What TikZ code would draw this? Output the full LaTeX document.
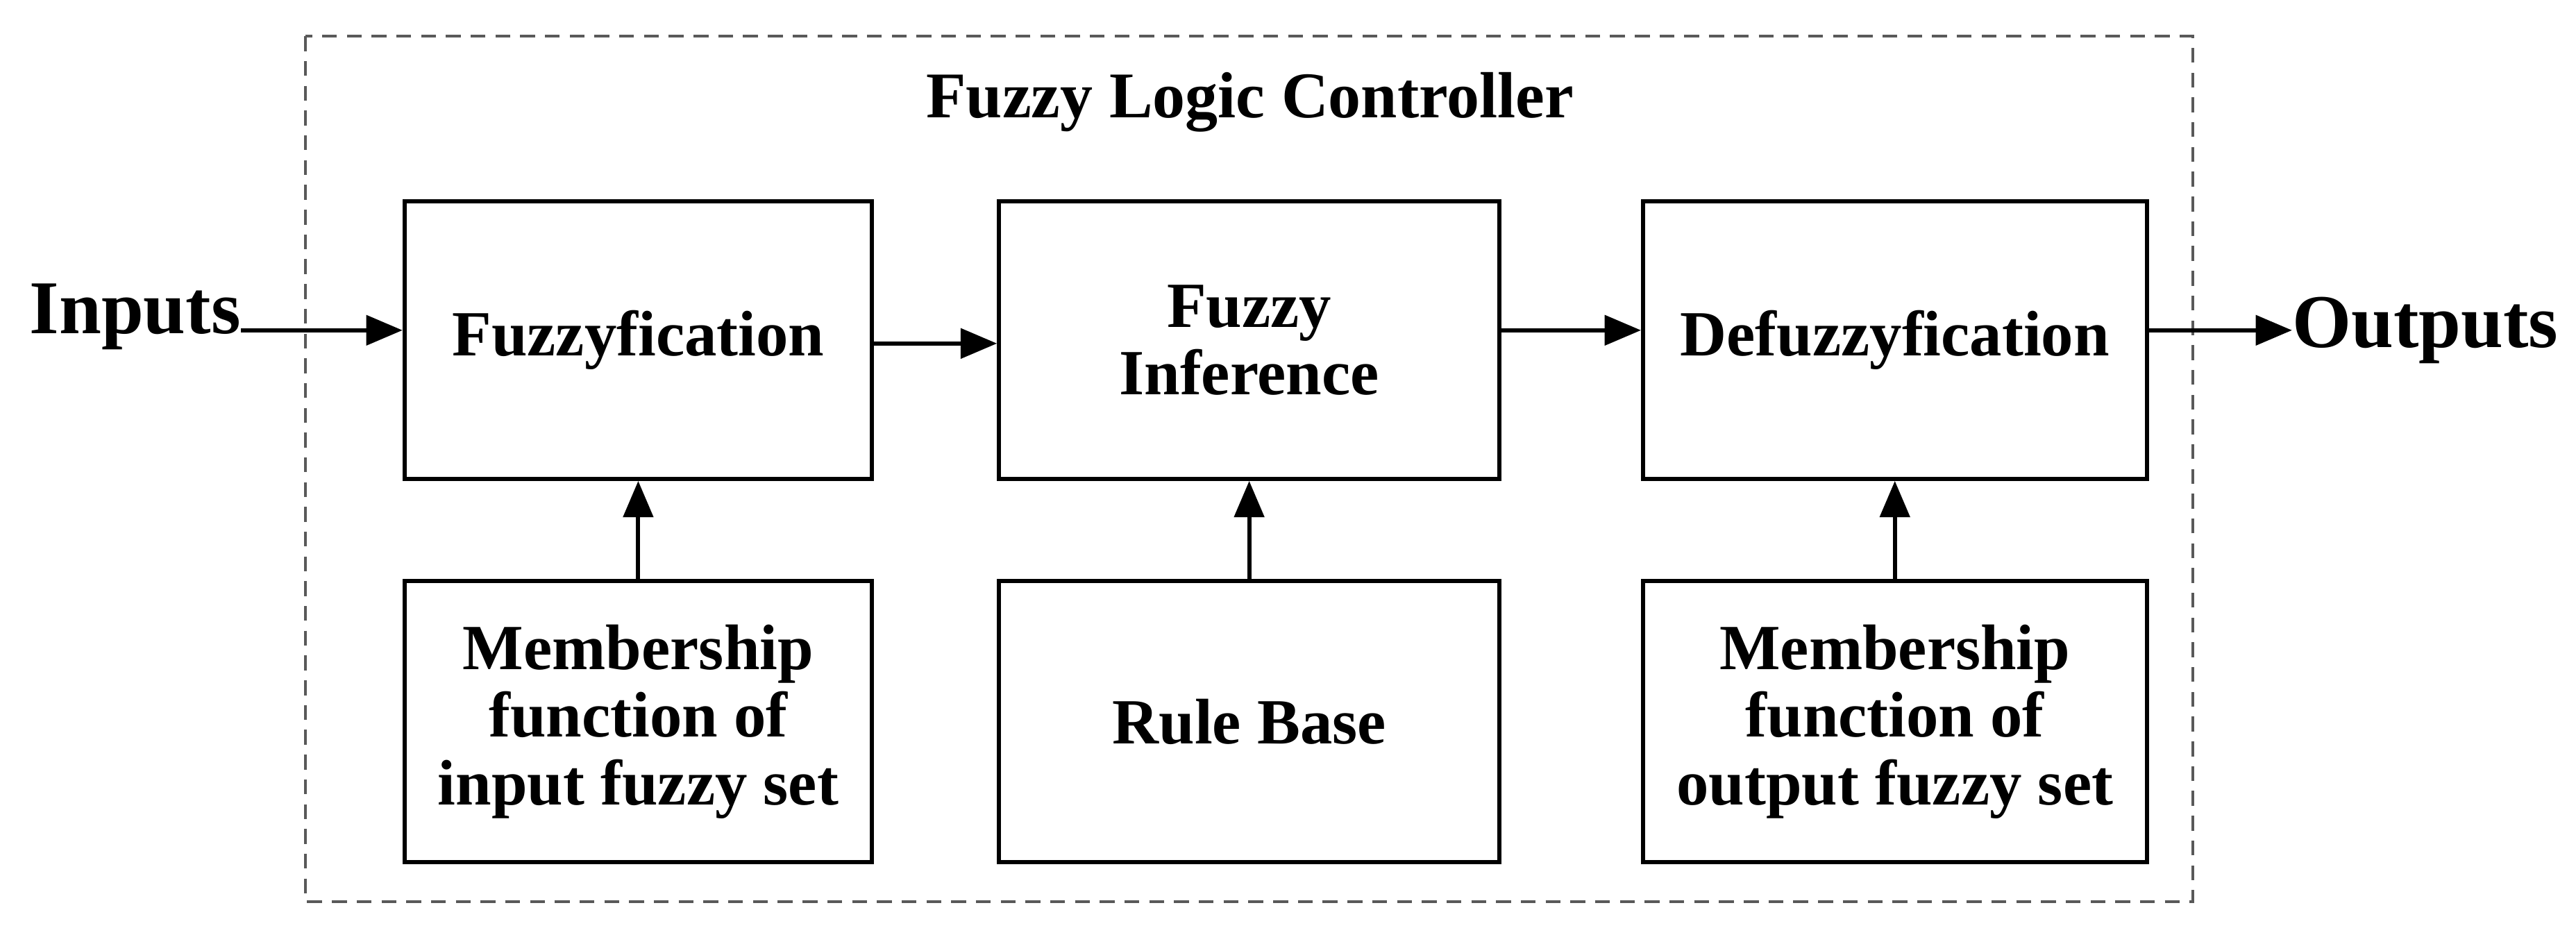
\documentclass[tikz,border=0pt]{standalone}
\usepackage{fontspec}
\setmainfont{Liberation Serif}
\usetikzlibrary{arrows.meta}
\begin{document}
\begin{tikzpicture}[x=1pt,y=-1pt,
  blk/.style={draw,line width=2.5pt,minimum width=#1,inner sep=0pt,align=center,font=\fontsize{39}{41}\selectfont\bfseries},
  arr/.style={line width=2.5pt,-{Triangle[length=22pt,width=18pt]}},
  lbl/.style={font=\fontsize{46}{50}\selectfont\bfseries,inner sep=0pt}]
\useasboundingbox (0,0) rectangle (1560,566);
\draw[dashed,line width=1.8pt,gray!70!black,dash pattern=on 9pt off 6pt] (185,22) rectangle (1328,546);
\node[font=\fontsize{39.5}{44}\selectfont\bfseries] (t) at (757,62) {Fuzzy Logic Controller};
\node[blk=283pt,minimum height=168pt] (fz) at (386.5,206) {Fuzzyfication};
\node[blk=303pt,minimum height=168pt] (fi) at (756.5,206) {Fuzzy\\Inference};
\node[blk=305pt,minimum height=168pt] (dz) at (1147.5,206) {Defuzzyfication};
\node[blk=283pt,minimum height=170pt] (m1) at (386.5,437) {Membership\\function of\\input fuzzy set};
\node[blk=303pt,minimum height=170pt] (rb) at (756.5,437) {Rule Base};
\node[blk=305pt,minimum height=170pt] (m2) at (1147.5,437) {Membership\\function of\\output fuzzy set};
\node[lbl,anchor=east] (in) at (146,192) {Inputs};
\node[lbl,anchor=west] (out) at (1388,200) {Outputs};
\draw[arr] (in.east |- 0,200) -- (fz.west |- 0,200);
\draw[arr] (fz.east |- 0,208) -- (fi.west |- 0,208);
\draw[arr] (fi.east |- 0,200) -- (dz.west |- 0,200);
\draw[arr] (dz.east |- 0,200) -- (out.west |- 0,200);
\draw[arr] (m1) -- (fz);
\draw[arr] (rb) -- (fi);
\draw[arr] (m2) -- (dz);
\end{tikzpicture}
\end{document}
